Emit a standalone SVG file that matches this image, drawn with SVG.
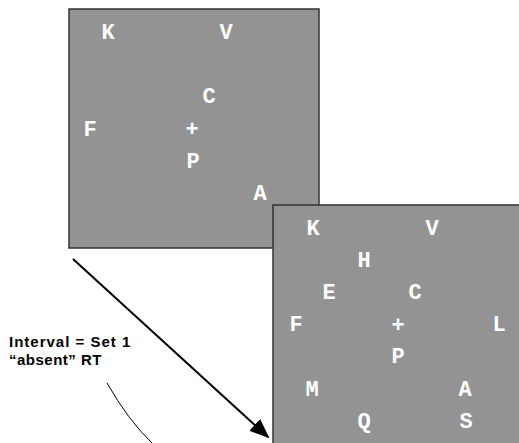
<svg xmlns="http://www.w3.org/2000/svg" width="519" height="443" viewBox="0 0 519 443">
<defs>
<style>
.panel{fill:#939393;stroke:#333;stroke-width:1.5}
.let{font-family:"Liberation Mono","DejaVu Sans Mono",monospace;font-weight:bold;font-size:22px;fill:#fff;text-anchor:middle}
.lbl{font-family:"Liberation Sans",Arial,sans-serif;font-weight:bold;font-size:15px;fill:#000;letter-spacing:1px}
</style>
<marker id="ah" markerWidth="10" markerHeight="8" refX="9" refY="4" orient="auto" markerUnits="strokeWidth">
<path d="M0,0 L10,4 L0,8 Z" fill="#000"/>
</marker>
</defs>
<rect width="519" height="443" fill="#fff"/>
<g id="panel1">
<rect class="panel" x="69" y="9" width="250" height="239"/>
<text class="let" x="108" y="39">K</text>
<text class="let" x="226" y="39">V</text>
<text class="let" x="209" y="103">C</text>
<text class="let" x="90" y="136">F</text>
<text class="let" x="192" y="136">+</text>
<text class="let" x="193" y="168">P</text>
<text class="let" x="260" y="200">A</text>
</g>
<g id="panel2">
<rect class="panel" x="273" y="205" width="260" height="250"/>
<text class="let" x="313" y="235">K</text>
<text class="let" x="432" y="235">V</text>
<text class="let" x="364" y="267">H</text>
<text class="let" x="329" y="299">E</text>
<text class="let" x="415" y="299">C</text>
<text class="let" x="296" y="331">F</text>
<text class="let" x="398" y="332">+</text>
<text class="let" x="499" y="331">L</text>
<text class="let" x="398" y="363">P</text>
<text class="let" x="312" y="396">M</text>
<text class="let" x="465" y="396">A</text>
<text class="let" x="364" y="428">Q</text>
<text class="let" x="466" y="428">S</text>
</g>
<g id="connectors">
<line x1="73" y1="259" x2="268" y2="437" stroke="#000" stroke-width="2" marker-end="url(#ah)"/>
<path d="M107,383 Q128,420 152,443" fill="none" stroke="#000" stroke-width="1"/>
</g>
<g id="label">
<text class="lbl" x="9" y="347">Interval = Set 1</text>
<text class="lbl" x="9" y="365" style="letter-spacing:0.5px">“absent” RT</text>
</g>
</svg>
